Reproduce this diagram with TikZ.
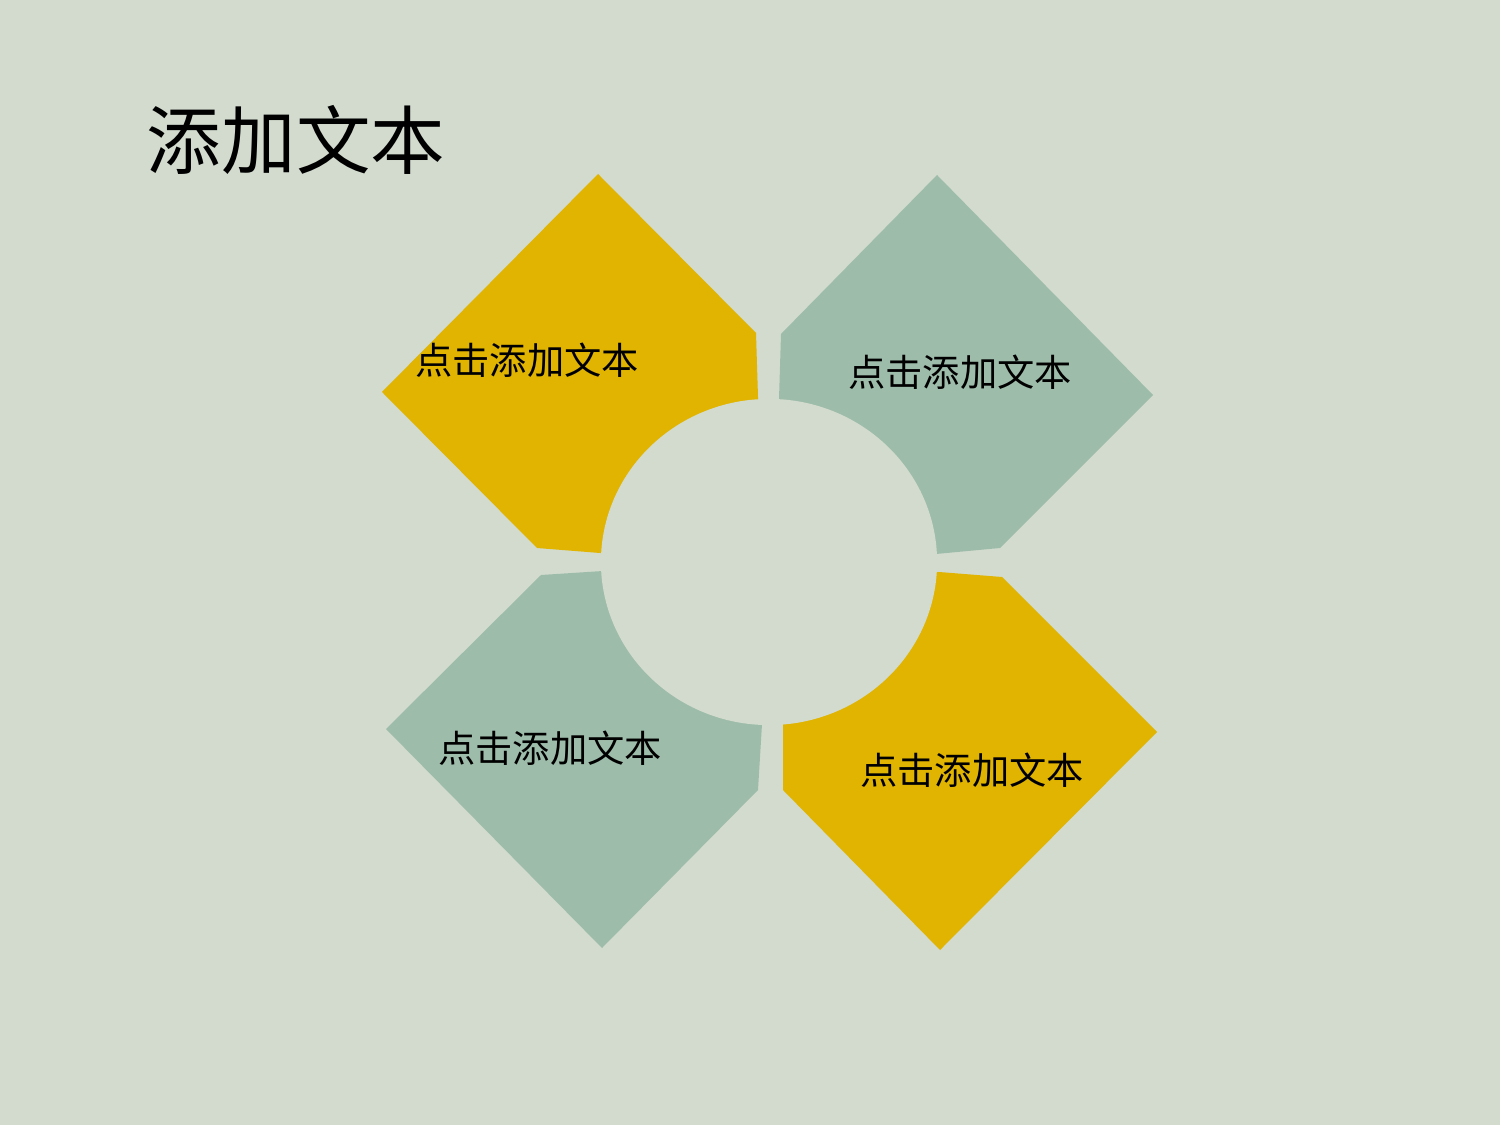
\documentclass[tikz,border=0pt]{standalone}
\usepackage{fontspec}
\newfontfamily\cjk{Noto Sans CJK SC}
\definecolor{bgc}{HTML}{D2DBCE}
\definecolor{gold}{HTML}{E0B400}
\definecolor{sage}{HTML}{9EBCAA}
\begin{document}
\begin{tikzpicture}[x=0.01cm, y=-0.01cm, line join=round,
	petal/.style={draw=none}, lbl/.style={font=\cjk\fontsize{10.6pt}{12pt}\selectfont, inner sep=0pt}]
	\fill[bgc] (0,0) rectangle (1500,1125);
	\useasboundingbox (0,0) rectangle (1500,1125);
	\node[font=\cjk\fontsize{21.2pt}{24pt}\selectfont, inner sep=0pt] (title) at (296,140) {添加文本};
	% petals
	\fill[gold, petal] (598,174)--(756,333)--(758,397)--(758,558)--(600,553)--(537,548)--(382,392)--cycle;
	\fill[sage, petal] (937,175)--(1153,395)--(1000,548)--(936,554)--(779,556)--(779,399)--(781,334)--cycle;
	\fill[sage, petal] (386,729)--(541,575)--(603,571)--(761,571)--(762,724)--(758,790)--(602,948)--cycle;
	\fill[gold, petal] (1002,577)--(1157,732)--(940,950)--(783,790)--(783,727)--(783,573)--(939,572)--cycle;
	\fill[bgc] (769,562) ellipse [x radius=1.68cm, y radius=1.63cm];
	% labels
	\node[lbl] (tl) at (527,360) {点击添加文本};
	\node[lbl] (tr) at (960,372) {点击添加文本};
	\node[lbl] (bl) at (550,748) {点击添加文本};
	\node[lbl] (br) at (972,770) {点击添加文本};
\end{tikzpicture}
\end{document}
